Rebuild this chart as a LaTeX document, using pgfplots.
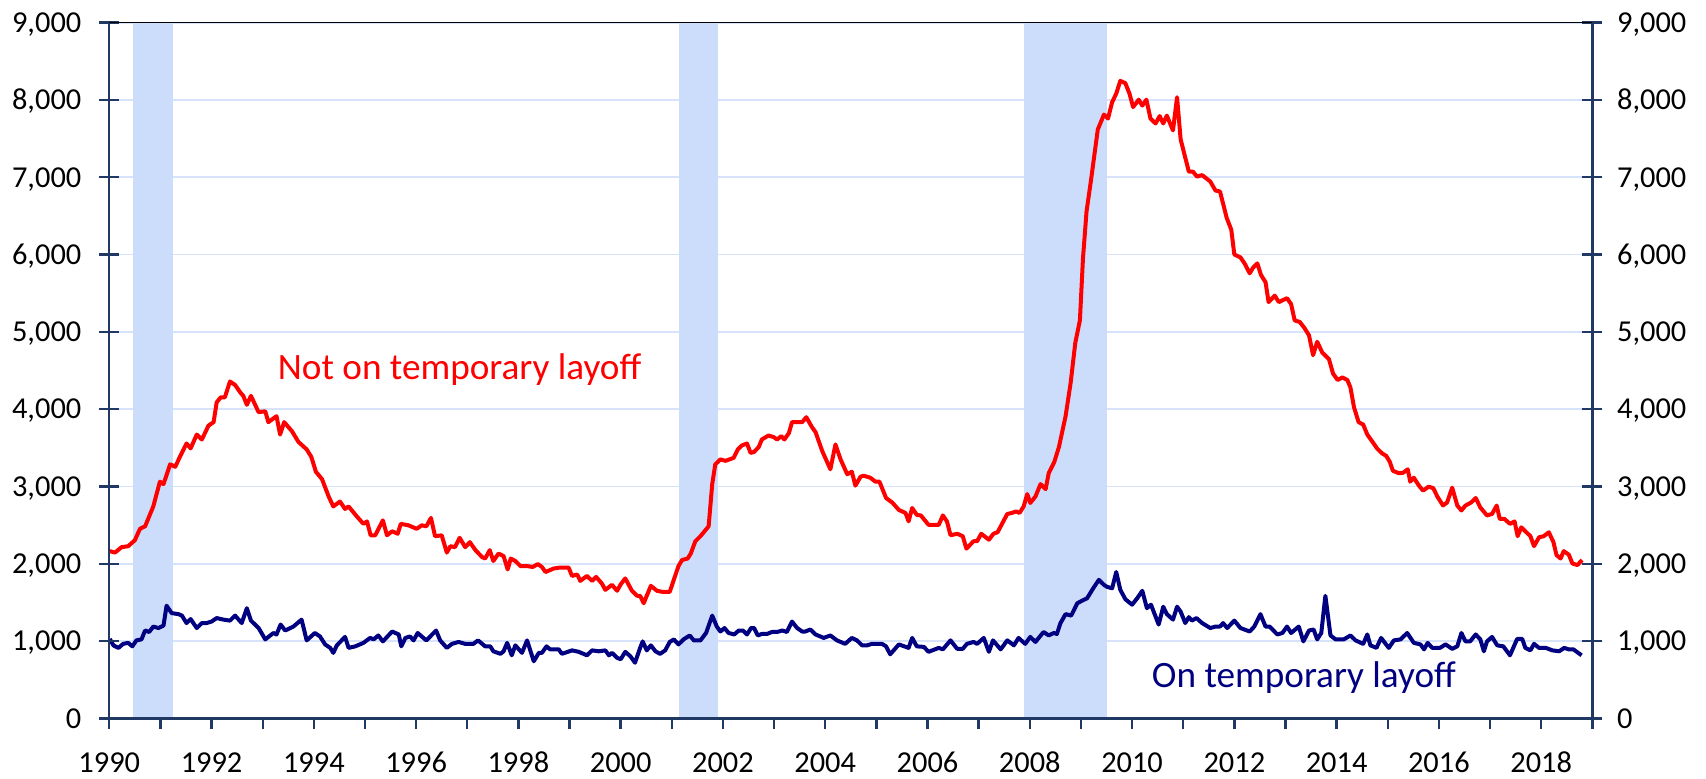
\documentclass[border=0pt]{standalone}
\usepackage{fontspec}
\setmainfont{Carlito}
\usepackage{pgfplots}
\usepackage{pgfplotstable}
\pgfplotsset{compat=1.18}
\definecolor{axnavy}{RGB}{32,56,100}
\definecolor{serblue}{RGB}{0,0,128}
\definecolor{gridblue}{RGB}{214,227,250}
\definecolor{shade}{RGB}{204,221,252}

\pgfplotstableread{
x y
1990.01 2163
1990.11 2144
1990.24 2214
1990.37 2227
1990.50 2304
1990.60 2452
1990.70 2484
1990.86 2741
1990.99 3062
1991.06 3030
1991.19 3286
1991.29 3254
1991.38 3383
1991.51 3556
1991.59 3492
1991.71 3671
1991.81 3607
1991.94 3787
1992.04 3832
1992.10 4089
1992.18 4153
1992.26 4153
1992.36 4358
1992.46 4313
1992.56 4217
1992.62 4172
1992.69 4056
1992.77 4172
1992.92 3960
1993.05 3973
1993.11 3832
1993.27 3909
1993.34 3671
1993.42 3832
1993.57 3716
1993.70 3575
1993.86 3479
1993.95 3383
1994.04 3190
1994.16 3094
1994.29 2869
1994.38 2741
1994.51 2805
1994.61 2709
1994.68 2741
1994.84 2612
1994.97 2516
1995.04 2548
1995.11 2368
1995.20 2368
1995.35 2561
1995.43 2368
1995.53 2420
1995.64 2388
1995.70 2516
1995.85 2497
1996.01 2452
1996.11 2497
1996.20 2484
1996.29 2593
1996.37 2356
1996.50 2368
1996.60 2144
1996.67 2227
1996.76 2214
1996.85 2336
1996.96 2214
1997.05 2279
1997.16 2176
1997.29 2086
1997.35 2067
1997.44 2176
1997.51 2035
1997.61 2131
1997.71 2099
1997.79 1926
1997.85 2067
1997.94 2035
1998.04 1970
1998.17 1970
1998.28 1958
1998.38 1996
1998.46 1958
1998.53 1893
1998.69 1938
1998.82 1951
1998.98 1951
1999.05 1842
1999.15 1861
1999.21 1778
1999.34 1842
1999.44 1778
1999.52 1829
1999.63 1746
1999.70 1662
1999.83 1727
1999.93 1650
2000.00 1733
2000.09 1810
2000.22 1650
2000.32 1585
2000.38 1585
2000.45 1489
2000.59 1714
2000.71 1650
2000.81 1637
2000.96 1637
2001.13 1970
2001.20 2048
2001.31 2067
2001.37 2131
2001.46 2291
2001.56 2356
2001.72 2484
2001.79 3030
2001.85 3286
2001.95 3350
2002.05 3331
2002.21 3370
2002.29 3479
2002.37 3530
2002.47 3556
2002.54 3434
2002.61 3447
2002.70 3511
2002.76 3607
2002.89 3659
2002.99 3639
2003.06 3607
2003.14 3652
2003.20 3607
2003.29 3691
2003.35 3832
2003.45 3832
2003.55 3832
2003.63 3896
2003.74 3768
2003.81 3704
2003.94 3460
2004.10 3222
2004.20 3543
2004.30 3350
2004.43 3158
2004.52 3190
2004.59 3010
2004.69 3126
2004.75 3139
2004.88 3113
2004.98 3062
2005.06 3062
2005.19 2850
2005.31 2792
2005.44 2696
2005.57 2657
2005.63 2548
2005.70 2721
2005.79 2632
2005.87 2625
2006.02 2503
2006.22 2503
2006.30 2625
2006.38 2548
2006.45 2368
2006.58 2388
2006.69 2356
2006.76 2195
2006.90 2291
2006.97 2291
2007.05 2388
2007.20 2311
2007.29 2388
2007.37 2407
2007.56 2644
2007.65 2657
2007.73 2677
2007.80 2657
2007.88 2741
2007.95 2901
2008.01 2786
2008.11 2869
2008.21 3030
2008.31 2965
2008.37 3171
2008.48 3318
2008.57 3511
2008.70 3909
2008.80 4345
2008.89 4859
2008.98 5148
2009.04 5950
2009.11 6560
2009.20 6977
2009.33 7619
2009.45 7811
2009.53 7760
2009.61 7972
2009.69 8081
2009.77 8248
2009.87 8216
2009.95 8081
2010.02 7908
2010.13 8004
2010.20 7927
2010.28 8004
2010.36 7760
2010.46 7696
2010.54 7792
2010.61 7696
2010.68 7798
2010.80 7606
2010.88 8036
2010.95 7490
2011.11 7073
2011.19 7073
2011.27 7009
2011.37 7028
2011.53 6945
2011.63 6829
2011.72 6816
2011.85 6476
2011.94 6322
2012.00 6001
2012.12 5963
2012.20 5886
2012.30 5757
2012.37 5834
2012.45 5886
2012.52 5738
2012.61 5642
2012.67 5385
2012.79 5469
2012.87 5385
2013.03 5436
2013.11 5359
2013.18 5148
2013.28 5128
2013.37 5051
2013.46 4955
2013.54 4698
2013.62 4872
2013.72 4731
2013.85 4647
2013.93 4461
2014.02 4377
2014.11 4410
2014.21 4377
2014.27 4281
2014.34 4024
2014.43 3832
2014.52 3800
2014.60 3671
2014.69 3588
2014.79 3492
2014.89 3427
2014.97 3395
2015.04 3318
2015.10 3203
2015.22 3171
2015.30 3177
2015.39 3222
2015.44 3062
2015.51 3113
2015.61 3010
2015.69 2946
2015.80 2997
2015.89 2978
2015.97 2869
2016.08 2753
2016.16 2792
2016.26 2985
2016.36 2753
2016.44 2689
2016.52 2753
2016.63 2792
2016.72 2850
2016.81 2728
2016.94 2625
2017.04 2644
2017.13 2753
2017.19 2580
2017.28 2580
2017.39 2516
2017.48 2548
2017.54 2356
2017.61 2471
2017.69 2420
2017.79 2356
2017.86 2227
2017.96 2343
2018.05 2356
2018.15 2407
2018.24 2279
2018.30 2112
2018.38 2067
2018.44 2163
2018.54 2118
2018.61 2003
2018.71 1983
2018.80 2048
}\notontemp

\pgfplotstableread{
x y
1990.01 1027
1990.08 944
1990.18 911
1990.27 963
1990.37 976
1990.45 931
1990.53 1008
1990.63 1021
1990.70 1136
1990.78 1117
1990.86 1187
1990.96 1168
1991.06 1200
1991.12 1457
1991.22 1361
1991.35 1348
1991.42 1329
1991.51 1232
1991.59 1284
1991.71 1168
1991.81 1232
1991.90 1232
1992.00 1252
1992.10 1297
1992.23 1277
1992.36 1264
1992.46 1329
1992.59 1232
1992.69 1425
1992.77 1264
1992.92 1168
1993.05 1021
1993.21 1104
1993.27 1085
1993.35 1213
1993.44 1136
1993.60 1187
1993.76 1277
1993.86 1008
1994.02 1104
1994.12 1059
1994.22 956
1994.32 911
1994.38 847
1994.45 944
1994.61 1053
1994.68 911
1994.81 931
1994.97 976
1995.10 1040
1995.17 1021
1995.26 1072
1995.35 995
1995.53 1123
1995.66 1085
1995.71 931
1995.79 1040
1995.88 1059
1995.95 1008
1996.03 1104
1996.20 1008
1996.39 1136
1996.47 1008
1996.60 911
1996.70 963
1996.83 988
1996.96 963
1997.12 963
1997.21 1008
1997.35 931
1997.45 931
1997.51 867
1997.65 834
1997.71 867
1997.78 976
1997.87 815
1997.94 944
1998.07 847
1998.17 1008
1998.30 738
1998.40 847
1998.46 847
1998.55 931
1998.62 892
1998.79 892
1998.85 834
1999.05 879
1999.18 860
1999.34 815
1999.44 879
1999.57 867
1999.70 879
1999.77 815
1999.83 847
1999.93 783
2000.00 764
2000.09 860
2000.19 802
2000.28 719
2000.38 911
2000.43 995
2000.51 879
2000.59 944
2000.68 867
2000.77 834
2000.87 879
2000.96 988
2001.04 1021
2001.13 956
2001.23 1021
2001.35 1072
2001.43 1008
2001.56 1008
2001.67 1104
2001.79 1329
2001.88 1187
2001.95 1123
2002.03 1168
2002.11 1104
2002.22 1085
2002.31 1136
2002.39 1136
2002.47 1085
2002.55 1168
2002.61 1168
2002.68 1072
2002.76 1091
2002.86 1091
2002.96 1117
2003.06 1117
2003.16 1136
2003.25 1117
2003.35 1252
2003.45 1168
2003.55 1123
2003.61 1123
2003.71 1149
2003.81 1085
2003.97 1040
2004.10 1072
2004.23 1008
2004.39 963
2004.52 1040
2004.62 1008
2004.72 944
2004.82 944
2004.91 963
2005.11 963
2005.19 931
2005.27 828
2005.44 956
2005.63 911
2005.70 1040
2005.79 931
2005.93 924
2006.02 860
2006.22 911
2006.30 892
2006.45 1008
2006.58 899
2006.69 899
2006.77 963
2006.90 988
2006.97 963
2007.10 1040
2007.20 860
2007.28 1008
2007.43 892
2007.56 1008
2007.69 944
2007.78 1040
2007.91 963
2008.01 1053
2008.11 988
2008.27 1117
2008.37 1072
2008.47 1104
2008.53 1091
2008.60 1232
2008.70 1348
2008.81 1329
2008.93 1489
2009.02 1521
2009.12 1553
2009.24 1682
2009.35 1791
2009.45 1727
2009.51 1701
2009.61 1682
2009.69 1893
2009.77 1662
2009.87 1540
2010.00 1470
2010.10 1553
2010.20 1650
2010.29 1425
2010.37 1470
2010.52 1213
2010.61 1444
2010.68 1348
2010.80 1277
2010.88 1444
2010.95 1380
2011.04 1232
2011.11 1309
2011.17 1264
2011.26 1297
2011.37 1232
2011.53 1168
2011.63 1187
2011.72 1187
2011.78 1232
2011.86 1168
2012.00 1264
2012.12 1168
2012.30 1123
2012.39 1187
2012.51 1348
2012.61 1187
2012.69 1187
2012.84 1085
2012.94 1104
2013.03 1187
2013.11 1104
2013.26 1187
2013.35 995
2013.46 1136
2013.55 1149
2013.62 1021
2013.70 1104
2013.78 1585
2013.88 1072
2013.98 1021
2014.14 1021
2014.27 1072
2014.37 1008
2014.52 963
2014.60 1085
2014.66 944
2014.78 911
2014.87 1040
2015.02 911
2015.12 1008
2015.25 1021
2015.38 1104
2015.51 976
2015.64 956
2015.71 892
2015.78 976
2015.87 911
2016.02 911
2016.13 956
2016.26 899
2016.36 931
2016.44 1104
2016.52 995
2016.61 995
2016.72 1085
2016.81 1021
2016.88 867
2016.94 995
2017.04 1053
2017.14 944
2017.26 931
2017.39 815
2017.53 1027
2017.63 1027
2017.69 911
2017.79 879
2017.86 963
2017.96 911
2018.09 911
2018.22 879
2018.35 867
2018.45 911
2018.54 892
2018.63 892
2018.79 815
}\ontemp

\begin{document}
\begin{tikzpicture}
\useasboundingbox (-54.65pt,-29.85pt) rectangle (798.35pt,359.15pt);
\pgfplotsset{base/.style={width=741.5pt,height=347.8pt,scale only axis,
  xmin=1990,xmax=2019,ymin=0,ymax=9000,
  ticklabel style={font=\fontsize{15.2}{18}\selectfont, inner sep=0pt}}}
% background: grid, top border, recessions, left and bottom labels
\begin{axis}[base, axis line style={draw=none},
  xtick={1990,1992,...,2018},
  xticklabels={1990,1992,1994,1996,1998,2000,2002,2004,2006,2008,2010,2012,2014,2016,2018},
  xticklabel style={anchor=base, yshift=-27pt},
  ytick={0,1000,...,9000},
  yticklabels={0,{1,000},{2,000},{3,000},{4,000},{5,000},{6,000},{7,000},{8,000},{9,000}},
  yticklabel style={anchor=base east, xshift=-13.8pt, yshift=-4.9pt},
  ymajorgrids,
  major tick length=0pt, tick style={draw=none},
  major grid style={gridblue, line width=0.9pt}]
\addplot[draw=none, fill=shade] coordinates {(1990.47,9000) (1991.25,9000)} \closedcycle;
\addplot[draw=none, fill=shade] coordinates {(2001.15,9000) (2001.91,9000)} \closedcycle;
\addplot[draw=none, fill=shade] coordinates {(2007.89,9000) (2009.51,9000)} \closedcycle;
\end{axis}
% top border line (drawn under the recession bands of the axis above)
% data, bottom axis line with outward ticks
\begin{axis}[base, axis x line*=bottom, axis y line*=left,
  axis line style={axnavy, line width=1.2pt},
  xtick={1990,1991,...,2019}, xticklabels={},
  tick align=outside, major tick length=5.5pt,
  tick style={axnavy, line width=1.2pt},
  ytick=\empty,
  clip=false]
\addplot[serblue, line width=2pt, line join=round, mark=none] table[x=x,y=y] {\ontemp};
\addplot[red, line width=2pt, line join=round, mark=none] table[x=x,y=y] {\notontemp};
\node[anchor=base, text=red, font=\fontsize{18.6}{22}\selectfont, inner sep=0pt] at (axis cs:1996.85,4386) {Not on temporary layoff};
\node[anchor=base, text=serblue, font=\fontsize{18.6}{22}\selectfont, inner sep=0pt] at (axis cs:2013.36,401) {On temporary layoff};
\end{axis}
% y axis lines with centred ticks, thin black top border
\begin{axis}[base, axis x line*=top, x axis line style={black, line width=0.75pt},
  xtick=\empty,
  y axis line style={axnavy, line width=1.2pt},
  ytick={0,1000,...,9000}, ytick pos=both, yticklabels={},
  tick align=center, major tick length=10pt,
  tick style={axnavy, line width=1.2pt}]
% recession bands again over the top border only (thin strip)
\addplot[draw=none, fill=shade] coordinates {(1990.47,9000) (1991.25,9000) (1991.25,8960) (1990.47,8960)} -- cycle;
\addplot[draw=none, fill=shade] coordinates {(2001.15,9000) (2001.91,9000) (2001.91,8960) (2001.15,8960)} -- cycle;
\addplot[draw=none, fill=shade] coordinates {(2007.89,9000) (2009.51,9000) (2009.51,8960) (2007.89,8960)} -- cycle;
\end{axis}
% right labels
\begin{axis}[base, hide x axis, axis line style={draw=none},
  ytick={0,1000,...,9000}, yticklabel pos=right,
  yticklabels={0,{1,000},{2,000},{3,000},{4,000},{5,000},{6,000},{7,000},{8,000},{9,000}},
  major tick length=0pt, tick style={draw=none},
  yticklabel style={anchor=base west, xshift=12.2pt, yshift=-4.9pt}]
\end{axis}
\end{tikzpicture}
\end{document}
